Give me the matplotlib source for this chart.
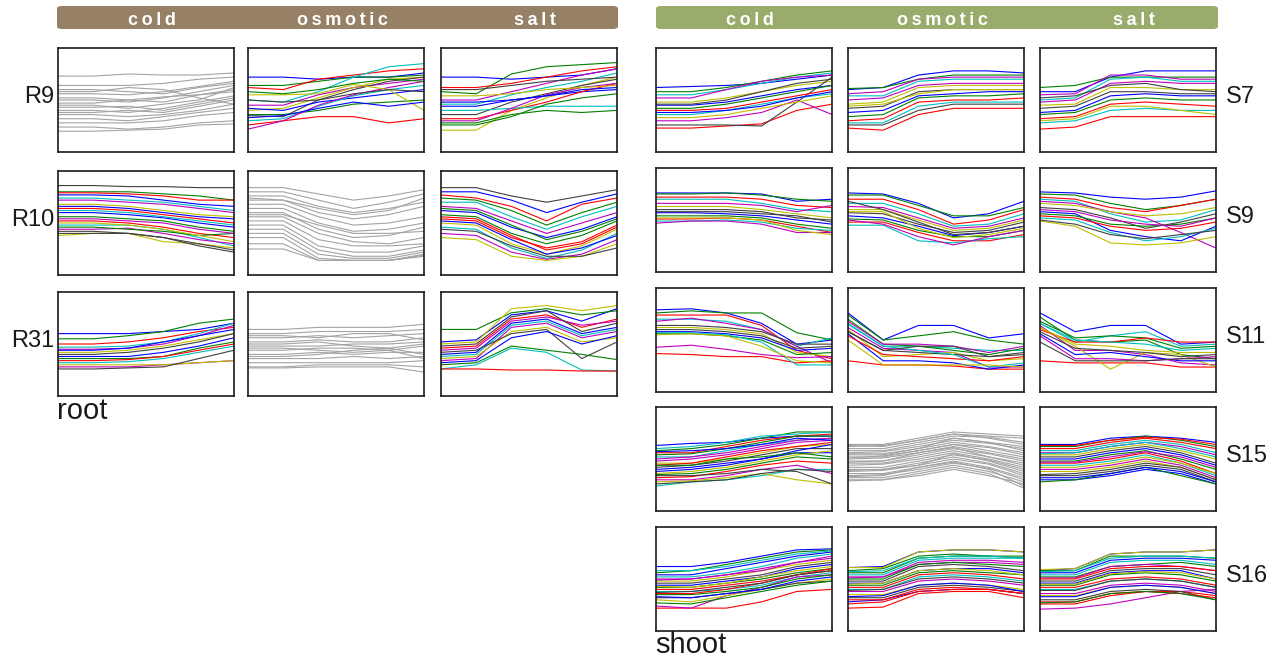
import matplotlib
matplotlib.use("Agg")
import matplotlib.pyplot as plt
from matplotlib.patches import FancyBboxPatch

plt.rcParams['font.family'] = ['Liberation Sans', 'DejaVu Sans']

# 6 time points per gene (0 = bottom of panel, 100 = top)
time_points = [0, 1, 2, 3, 4, 5]
stresses = ['cold', 'osmotic', 'salt']
root_clusters = ['R9', 'R10', 'R31']
shoot_clusters = ['S7', 'S9', 'S11', 'S15', 'S16']

r9_cold = [
    [73, 73, 75, 74, 74, 76], [64, 64, 64, 66, 70, 72], [60, 60, 58, 56, 62, 66],
    [56, 56, 55, 58, 63, 68], [52, 52, 50, 48, 55, 60], [47, 47, 50, 53, 55, 58],
    [43, 43, 44, 40, 46, 52], [40, 40, 38, 42, 48, 54], [36, 36, 34, 36, 40, 46],
    [32, 32, 30, 34, 38, 42], [28, 28, 28, 30, 35, 38], [24, 24, 22, 24, 28, 30],
    [20, 20, 21, 22, 26, 27], [58, 58, 62, 60, 52, 46], [45, 45, 42, 46, 50, 62],
    [50, 50, 48, 52, 58, 64], [38, 38, 40, 38, 44, 50],
]
r9_osmotic = [
    [72, 72, 70, 72, 72, 76], [64, 64, 68, 72, 72, 74], [62, 60, 70, 74, 78, 80],
    [50, 48, 58, 72, 82, 85], [45, 45, 55, 62, 66, 70], [40, 42, 52, 62, 70, 72],
    [35, 34, 50, 60, 68, 72], [42, 40, 48, 52, 56, 60], [36, 36, 40, 46, 48, 50],
    [26, 30, 34, 34, 28, 32], [30, 32, 44, 54, 60, 64], [22, 30, 45, 55, 62, 68],
    [55, 55, 56, 65, 60, 40], [50, 48, 50, 56, 60, 58], [33, 35, 42, 48, 44, 48],
    [58, 56, 60, 66, 70, 68],
]
r9_salt = [
    [72, 72, 70, 72, 74, 80], [58, 56, 75, 82, 84, 86], [62, 62, 66, 72, 78, 82],
    [46, 46, 55, 62, 68, 76], [50, 50, 58, 66, 74, 80], [21, 21, 40, 52, 64, 72],
    [36, 36, 48, 56, 64, 70], [44, 44, 50, 54, 58, 60], [28, 28, 36, 40, 38, 40],
    [32, 32, 40, 48, 58, 66], [40, 40, 42, 44, 44, 44], [30, 30, 42, 55, 62, 66],
    [54, 54, 56, 60, 62, 64], [60, 60, 64, 68, 70, 72], [48, 48, 50, 54, 60, 62],
    [26, 26, 34, 46, 52, 56],
]
r10_cold = [
    [77, 77, 76, 72, 68, 66], [80, 80, 80, 78, 76, 72], [79, 79, 78, 76, 72, 72],
    [74, 74, 72, 70, 66, 62], [72, 72, 70, 68, 64, 60], [68, 68, 66, 62, 58, 56],
    [86, 86, 85, 85, 84, 84], [60, 60, 58, 55, 50, 46], [56, 56, 54, 52, 46, 42],
    [52, 52, 50, 46, 40, 36], [48, 48, 48, 44, 36, 28], [44, 44, 45, 40, 34, 30],
    [38, 40, 40, 32, 30, 26], [42, 42, 40, 36, 28, 22], [66, 66, 64, 60, 56, 54],
    [46, 46, 44, 42, 38, 40], [64, 64, 62, 58, 54, 50], [62, 62, 60, 56, 52, 48],
    [54, 54, 52, 50, 44, 40], [50, 50, 48, 44, 38, 32], [40, 40, 40, 36, 30, 24],
]
r10_osmotic = [
    [84, 84, 78, 72, 76, 82], [80, 80, 72, 64, 70, 78], [76, 76, 66, 60, 64, 70],
    [72, 72, 60, 54, 58, 66], [68, 68, 56, 48, 50, 56], [64, 64, 50, 42, 44, 50],
    [60, 60, 44, 36, 38, 46], [56, 56, 40, 32, 30, 36], [52, 52, 34, 28, 28, 30],
    [48, 48, 28, 22, 22, 28], [44, 44, 24, 18, 18, 24], [40, 40, 20, 16, 16, 22],
    [36, 36, 16, 14, 14, 19], [30, 30, 14, 14, 14, 20], [25, 25, 14, 14, 14, 18],
    [74, 72, 64, 58, 62, 74], [58, 58, 48, 40, 40, 42],
]
r10_salt = [
    [80, 80, 72, 60, 70, 78], [74, 72, 62, 48, 60, 70], [77, 74, 66, 52, 68, 74],
    [70, 70, 56, 44, 56, 66], [66, 64, 52, 40, 50, 60], [50, 48, 30, 20, 28, 44],
    [84, 84, 76, 70, 76, 82], [62, 60, 46, 36, 44, 56], [58, 56, 40, 30, 38, 52],
    [54, 52, 36, 26, 32, 48], [46, 44, 26, 16, 24, 40], [40, 38, 22, 15, 20, 34],
    [36, 34, 18, 14, 18, 30], [44, 42, 28, 18, 18, 26], [52, 50, 34, 20, 26, 38],
    [64, 62, 48, 34, 42, 54], [56, 54, 38, 24, 30, 46],
]
r31_cold = [
    [60, 60, 60, 62, 64, 70], [55, 55, 58, 62, 70, 74], [50, 50, 52, 56, 62, 66],
    [47, 47, 48, 52, 60, 70], [45, 45, 46, 50, 58, 68], [42, 42, 44, 48, 54, 60],
    [40, 40, 42, 46, 52, 60], [38, 38, 38, 42, 48, 56], [36, 36, 36, 38, 46, 52],
    [34, 34, 35, 38, 44, 50], [32, 32, 33, 36, 42, 48], [28, 28, 28, 30, 32, 34],
    [30, 30, 30, 30, 32, 34], [26, 26, 27, 28, 36, 44], [44, 44, 46, 52, 58, 64],
]
r31_osmotic = [
    [64, 64, 66, 66, 66, 69], [60, 60, 62, 62, 62, 64], [56, 56, 58, 56, 58, 60],
    [52, 52, 54, 52, 52, 56], [48, 48, 48, 50, 50, 52], [44, 44, 46, 46, 44, 48],
    [40, 40, 42, 40, 42, 42], [36, 36, 36, 38, 36, 38], [32, 32, 32, 32, 32, 34],
    [28, 28, 30, 30, 30, 28], [27, 27, 28, 28, 28, 23], [50, 50, 52, 48, 46, 40],
    [38, 38, 40, 44, 46, 50], [58, 58, 56, 60, 60, 54], [46, 46, 44, 42, 44, 36],
]
r31_salt = [
    [52, 54, 78, 82, 72, 84], [64, 64, 80, 84, 78, 82], [46, 48, 74, 78, 66, 74],
    [26, 30, 46, 42, 25, 24], [44, 46, 72, 76, 68, 72], [50, 52, 84, 87, 82, 87],
    [48, 50, 76, 82, 62, 70], [40, 42, 70, 74, 60, 66], [30, 32, 48, 44, 40, 35],
    [26, 26, 25, 25, 24, 24], [38, 40, 68, 72, 58, 64], [34, 36, 66, 70, 56, 62],
    [36, 38, 62, 66, 52, 56], [42, 44, 60, 64, 36, 52], [32, 34, 56, 62, 50, 58],
]
s7_cold = [
    [62, 63, 64, 66, 70, 74], [58, 58, 62, 68, 74, 78], [23, 23, 25, 27, 40, 46],
    [55, 55, 60, 66, 72, 76], [52, 52, 60, 68, 72, 74], [48, 48, 52, 58, 64, 68],
    [26, 26, 26, 25, 48, 72], [45, 45, 48, 54, 60, 64], [42, 42, 46, 52, 58, 64],
    [40, 40, 42, 48, 54, 60], [36, 36, 40, 46, 52, 56], [30, 30, 33, 38, 50, 36],
    [33, 33, 36, 42, 48, 54], [46, 46, 50, 58, 66, 70], [38, 38, 40, 44, 52, 58],
]
s7_osmotic = [
    [60, 62, 74, 78, 78, 76], [61, 62, 70, 74, 74, 74], [23, 21, 36, 42, 42, 42],
    [54, 54, 68, 70, 70, 70], [50, 52, 64, 66, 66, 66], [46, 48, 62, 64, 64, 64],
    [42, 44, 58, 60, 60, 60], [38, 40, 54, 56, 58, 58], [34, 36, 52, 54, 54, 56],
    [30, 32, 48, 50, 50, 52], [28, 28, 44, 48, 48, 48], [56, 58, 70, 72, 72, 72],
    [44, 46, 56, 60, 60, 60], [26, 26, 40, 46, 46, 46],
]
s7_salt = [
    [58, 58, 72, 78, 78, 78], [62, 64, 72, 72, 72, 72], [22, 24, 34, 34, 34, 34],
    [50, 52, 70, 72, 68, 68], [48, 50, 66, 68, 66, 66], [45, 46, 62, 62, 60, 60],
    [42, 44, 58, 58, 56, 56], [38, 40, 54, 56, 54, 54], [36, 38, 50, 52, 50, 50],
    [32, 34, 46, 48, 46, 44], [28, 30, 40, 42, 40, 40], [55, 56, 74, 74, 70, 70],
    [30, 32, 44, 44, 40, 36], [52, 54, 64, 66, 60, 58],
]
s9_cold = [
    [76, 76, 76, 75, 68, 70], [75, 75, 76, 74, 70, 68], [72, 72, 72, 70, 64, 62],
    [70, 70, 70, 66, 60, 58], [66, 66, 66, 64, 58, 64], [63, 63, 63, 60, 56, 52],
    [60, 60, 60, 58, 52, 50], [57, 57, 56, 54, 50, 46], [54, 54, 54, 52, 46, 42],
    [51, 51, 52, 50, 44, 38], [49, 49, 50, 48, 42, 40], [47, 49, 49, 46, 38, 38],
    [52, 52, 52, 50, 40, 36], [58, 58, 58, 56, 54, 48],
]
s9_osmotic = [
    [76, 75, 66, 52, 56, 68], [74, 74, 64, 54, 54, 62], [70, 70, 60, 46, 50, 60],
    [66, 66, 56, 44, 46, 56], [63, 62, 52, 42, 44, 52], [60, 60, 50, 40, 42, 50],
    [57, 56, 46, 38, 40, 48], [54, 52, 44, 35, 38, 44], [51, 50, 40, 34, 34, 40],
    [48, 48, 38, 30, 30, 36], [45, 45, 30, 28, 32, 34], [50, 46, 34, 26, 34, 40],
    [58, 58, 42, 33, 36, 42], [68, 60, 48, 36, 38, 44],
]
s9_salt = [
    [77, 76, 72, 70, 72, 78], [75, 74, 66, 60, 64, 70], [72, 70, 62, 58, 64, 70],
    [70, 68, 56, 48, 50, 60], [68, 66, 58, 52, 38, 23], [66, 64, 58, 54, 56, 62],
    [62, 60, 52, 42, 48, 56], [58, 56, 40, 34, 30, 44], [56, 54, 46, 44, 46, 52],
    [54, 52, 44, 40, 42, 48], [52, 50, 38, 30, 34, 42], [60, 58, 50, 46, 44, 52],
    [49, 44, 28, 26, 28, 34], [50, 46, 36, 32, 36, 40],
]
s11_cold = [
    [79, 80, 76, 66, 46, 50], [76, 78, 76, 76, 57, 50], [74, 74, 74, 64, 40, 32],
    [70, 70, 68, 60, 44, 52], [68, 71, 66, 60, 44, 28], [62, 62, 60, 56, 38, 34],
    [60, 60, 58, 54, 42, 44], [58, 58, 56, 52, 40, 42], [56, 56, 54, 50, 36, 38],
    [37, 36, 34, 34, 28, 30], [57, 57, 55, 48, 26, 26], [43, 45, 41, 36, 33, 34],
    [55, 56, 54, 44, 30, 28], [64, 64, 62, 58, 46, 46],
]
s11_osmotic = [
    [76, 50, 64, 64, 52, 56], [74, 50, 54, 58, 50, 46], [30, 26, 26, 25, 22, 22],
    [66, 44, 44, 42, 40, 40], [62, 42, 40, 38, 24, 24], [60, 34, 36, 38, 30, 32],
    [58, 40, 38, 36, 34, 36], [56, 30, 30, 28, 22, 26], [70, 46, 44, 40, 36, 42],
    [54, 36, 34, 32, 30, 34], [65, 44, 40, 36, 24, 28], [68, 46, 46, 44, 38, 44],
    [50, 26, 26, 26, 26, 24], [58, 40, 44, 44, 34, 38],
]
s11_salt = [
    [76, 58, 64, 64, 46, 48], [72, 50, 48, 50, 36, 32], [30, 28, 28, 28, 24, 24],
    [66, 48, 54, 58, 44, 46], [64, 40, 40, 36, 28, 26], [62, 44, 22, 38, 36, 24],
    [58, 42, 40, 38, 34, 36], [56, 36, 38, 34, 30, 30], [68, 52, 54, 52, 42, 44],
    [60, 48, 48, 52, 48, 48], [66, 50, 48, 46, 40, 42], [54, 32, 32, 30, 32, 34],
    [62, 46, 44, 40, 38, 38], [48, 30, 30, 30, 32, 32],
]
s15_cold = [
    [63, 65, 66, 70, 72, 72], [58, 60, 64, 70, 76, 76], [56, 56, 62, 68, 72, 74],
    [52, 52, 58, 64, 68, 70], [48, 50, 54, 60, 66, 68], [46, 46, 50, 56, 62, 64],
    [42, 44, 48, 54, 60, 60], [38, 40, 44, 50, 56, 56], [35, 36, 40, 46, 52, 50],
    [32, 33, 38, 44, 48, 46], [24, 28, 30, 34, 40, 40], [30, 30, 34, 40, 44, 36],
    [28, 29, 32, 36, 30, 26], [34, 34, 36, 40, 38, 26], [40, 42, 46, 50, 58, 64],
    [54, 55, 60, 66, 72, 72], [44, 46, 52, 58, 62, 66], [60, 62, 66, 72, 74, 76],
    [50, 52, 56, 62, 68, 70], [36, 38, 42, 48, 54, 58], [26, 28, 30, 36, 40, 38],
    [57, 58, 60, 64, 70, 68], [44, 44, 50, 52, 56, 52],
]
s15_osmotic = [
    [64, 64, 70, 76, 74, 72], [62, 63, 68, 74, 72, 70], [60, 60, 66, 72, 71, 66],
    [58, 58, 64, 70, 66, 62], [56, 57, 62, 68, 65, 60], [54, 54, 60, 66, 62, 56],
    [52, 52, 58, 64, 61, 54], [50, 51, 56, 62, 56, 50], [48, 48, 54, 60, 55, 48],
    [46, 46, 52, 58, 52, 44], [44, 45, 50, 56, 50, 42], [42, 42, 48, 54, 49, 40],
    [40, 40, 46, 52, 46, 36], [38, 39, 44, 50, 45, 34], [36, 36, 42, 48, 42, 32],
    [34, 35, 40, 46, 41, 30], [32, 32, 38, 44, 38, 28], [30, 30, 36, 42, 36, 22],
    [29, 30, 34, 40, 34, 26], [63, 62, 68, 74, 70, 64], [55, 55, 60, 70, 66, 58],
    [47, 48, 56, 61, 52, 46], [39, 40, 44, 55, 48, 38], [33, 34, 42, 47, 40, 24],
    [51, 53, 58, 64, 58, 52],
]
s15_salt = [
    [64, 64, 70, 72, 70, 66], [62, 62, 68, 72, 68, 62], [60, 60, 66, 70, 66, 60],
    [58, 58, 64, 68, 64, 56], [56, 56, 62, 66, 62, 54], [54, 54, 60, 64, 58, 50],
    [52, 52, 58, 62, 56, 46], [50, 50, 56, 60, 54, 44], [48, 48, 54, 58, 50, 40],
    [46, 46, 50, 56, 48, 36], [44, 44, 48, 54, 46, 34], [40, 40, 44, 50, 44, 32],
    [38, 38, 42, 48, 42, 30], [34, 34, 38, 44, 40, 28], [30, 30, 34, 40, 36, 26],
    [28, 30, 36, 42, 34, 26], [63, 63, 68, 71, 69, 64], [55, 56, 62, 66, 60, 52],
    [47, 47, 52, 57, 52, 42], [42, 42, 46, 52, 46, 36], [35, 36, 40, 46, 42, 30],
    [32, 32, 36, 42, 38, 28],
]
s16_cold = [
    [62, 62, 66, 72, 78, 79], [56, 58, 64, 70, 76, 78], [22, 22, 22, 28, 38, 40],
    [52, 52, 56, 62, 70, 74], [50, 50, 54, 60, 66, 70], [48, 48, 52, 58, 64, 68],
    [46, 46, 50, 54, 62, 66], [44, 44, 48, 52, 60, 64], [42, 42, 46, 50, 56, 60],
    [40, 40, 44, 48, 54, 58], [38, 38, 40, 44, 52, 56], [24, 22, 34, 42, 52, 54],
    [30, 28, 34, 40, 46, 50], [32, 32, 36, 40, 46, 48], [54, 54, 60, 66, 72, 76],
    [35, 35, 38, 42, 50, 54], [36, 36, 40, 46, 54, 60], [58, 58, 62, 68, 74, 77],
    [49, 50, 54, 58, 66, 72], [43, 42, 46, 52, 58, 62], [37, 38, 42, 46, 54, 58],
    [33, 32, 36, 40, 48, 52], [27, 26, 32, 38, 44, 48],
]
s16_osmotic = [
    [61, 62, 76, 78, 78, 76], [58, 60, 72, 74, 72, 70], [22, 23, 36, 38, 38, 32],
    [54, 54, 68, 70, 70, 70], [52, 52, 66, 68, 68, 66], [61, 61, 76, 78, 78, 76],
    [48, 48, 62, 64, 62, 58], [46, 46, 58, 60, 60, 56], [44, 44, 56, 58, 56, 54],
    [42, 42, 54, 56, 54, 50], [40, 40, 52, 54, 52, 48], [38, 38, 48, 50, 48, 44],
    [35, 35, 44, 46, 44, 40], [32, 32, 42, 44, 42, 38], [28, 30, 38, 40, 40, 36],
    [56, 56, 70, 72, 72, 72], [30, 30, 40, 42, 40, 36], [57, 58, 70, 72, 72, 70],
    [51, 52, 64, 66, 66, 64], [45, 46, 58, 60, 58, 54], [39, 40, 50, 52, 50, 46],
    [33, 34, 44, 46, 44, 38], [50, 50, 64, 66, 64, 62], [26, 28, 38, 40, 40, 36],
]
s16_salt = [
    [58, 60, 74, 76, 76, 78], [58, 58, 72, 72, 72, 70], [26, 26, 34, 38, 38, 34],
    [54, 54, 66, 68, 68, 64], [21, 22, 26, 32, 38, 40], [59, 60, 74, 76, 76, 78],
    [48, 48, 58, 60, 60, 54], [46, 46, 56, 58, 58, 50], [44, 44, 54, 56, 54, 48],
    [42, 42, 50, 52, 50, 44], [40, 40, 48, 50, 48, 42], [36, 36, 44, 46, 44, 38],
    [34, 34, 42, 44, 42, 36], [30, 30, 38, 40, 38, 30], [56, 56, 68, 70, 70, 68],
    [52, 52, 62, 64, 66, 62], [28, 28, 36, 38, 36, 32], [57, 58, 70, 72, 72, 70],
    [51, 51, 62, 64, 62, 58], [45, 45, 55, 57, 56, 50], [39, 39, 48, 50, 48, 42],
    [33, 33, 42, 44, 42, 36], [27, 28, 36, 38, 36, 30], [50, 50, 60, 62, 62, 58],
]

root_data = [
    [r9_cold, r9_osmotic, r9_salt],
    [r10_cold, r10_osmotic, r10_salt],
    [r31_cold, r31_osmotic, r31_salt],
]
shoot_data = [
    [s7_cold, s7_osmotic, s7_salt],
    [s9_cold, s9_osmotic, s9_salt],
    [s11_cold, s11_osmotic, s11_salt],
    [s15_cold, s15_osmotic, s15_salt],
    [s16_cold, s16_osmotic, s16_salt],
]
# panels drawn in plain gray in the original
gray_panels = {('R9', 0), ('R10', 1), ('R31', 1), ('S15', 1)}

line_colors = ['#0000ff', '#008000', '#ff0000', '#00bfbf', '#bf00bf', '#bfbf00', '#404040']

W, H = 1280, 663
fig = plt.figure(figsize=(W / 100, H / 100), dpi=100)


def px_axes(left, top, width, height):
    return fig.add_axes([left / W, 1 - (top + height) / H, width / W, height / H])


def draw_panel(ax, lines, gray):
    for i, ys in enumerate(lines):
        c = '#a3a3a3' if gray else line_colors[i % len(line_colors)]
        ax.plot(time_points, ys, color=c, lw=0.8)
    ax.set_xlim(time_points[0], time_points[-1])
    ax.set_ylim(0, 100)
    ax.set_xticks([])
    ax.set_yticks([])
    for sp in ax.spines.values():
        sp.set_linewidth(1.2)
        sp.set_color('#1a1a1a')


def header(left, right, color):
    bar = FancyBboxPatch((left / W, 1 - 29 / H), (right - left) / W, 23 / H,
                         boxstyle='round,pad=0,rounding_size=0.004',
                         transform=fig.transFigure, facecolor=color, edgecolor='none')
    fig.patches.append(bar)


panel_w, panel_h = 176, 104

# root block
root_lefts = [58, 248, 441]
root_tops = [48, 171, 292]
header(57, 618, '#968066')
for j, s in enumerate(stresses):
    fig.text((root_lefts[j] + panel_w / 2 + 6) / W, 1 - 25 / H, '\u2009'.join(s),
             color='white', fontsize=13, fontweight='bold', ha='center', va='baseline')
for i, name in enumerate(root_clusters):
    for j in range(3):
        ax = px_axes(root_lefts[j], root_tops[i], panel_w, panel_h)
        draw_panel(ax, root_data[i][j], (name, j) in gray_panels)
    fig.text(54 / W, 1 - (root_tops[i] + panel_h / 2 - 3) / H, name,
             fontsize=17, ha='right', va='center', color='#1a1a1a')
fig.text(57 / W, 1 - 411 / H, 'root', fontsize=21, ha='left', va='center', color='#1a1a1a')

# shoot block
shoot_lefts = [656, 848, 1040]
shoot_tops = [48, 168, 288, 407, 527]
header(656, 1218, '#9aac6b')
for j, s in enumerate(stresses):
    fig.text((shoot_lefts[j] + panel_w / 2 + 6) / W, 1 - 25 / H, '\u2009'.join(s),
             color='white', fontsize=13, fontweight='bold', ha='center', va='baseline')
for i, name in enumerate(shoot_clusters):
    for j in range(3):
        ax = px_axes(shoot_lefts[j], shoot_tops[i], panel_w, panel_h)
        draw_panel(ax, shoot_data[i][j], (name, j) in gray_panels)
    fig.text(1226 / W, 1 - (shoot_tops[i] + panel_h / 2 - 3) / H, name,
             fontsize=17, ha='left', va='center', color='#1a1a1a')
fig.text(655 / W, 1 - 645 / H, 'shoot', fontsize=21, ha='left', va='center', color='#1a1a1a')

fig.savefig('out.png', dpi=100, facecolor='white')
